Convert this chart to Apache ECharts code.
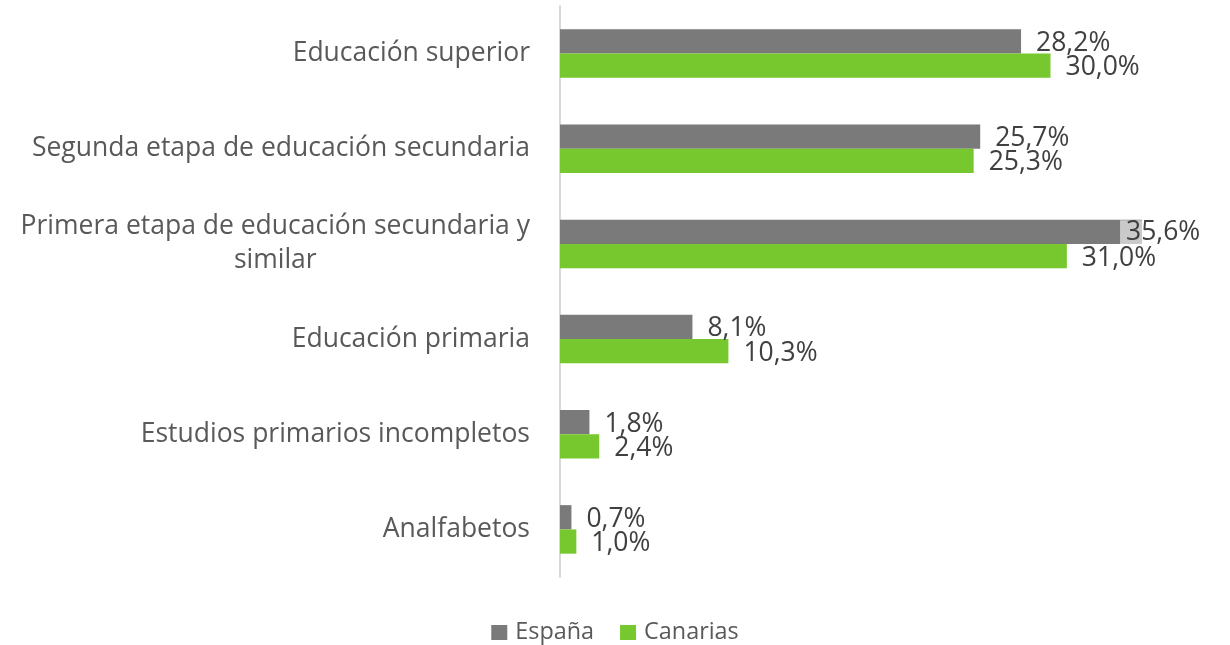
<!DOCTYPE html>
<html>
<head>
    <meta charset="utf-8">
    <title>Nivel de estudios</title>
    <script src="https://cdn.jsdelivr.net/npm/echarts@6/dist/echarts.min.js"></script>
    <style>
        html, body { margin: 0; padding: 0; background: #fff; }
        #main { width: 1230px; height: 645px; }
    </style>
</head>
<body>
    <div id="main"></div>
    <script>
        // datos
        const categorias = [
            'Educación superior',
            'Segunda etapa de educación secundaria',
            'Primera etapa de educación secundaria y\nsimilar',
            'Educación primaria',
            'Estudios primarios incompletos',
            'Analfabetos'
        ];
        const espana = [28.2, 25.7, 35.6, 8.1, 1.8, 0.7];
        const canarias = [30.0, 25.3, 31.0, 10.3, 2.4, 1.0];

        const fuente = '"Open Sans", "Noto Sans", sans-serif';
        const fmt = v => v.toFixed(1).replace('.', ',') + '%';

        const chart = echarts.init(document.getElementById('main'), null, { renderer: 'canvas' });

        const etiqueta = {
            show: true,
            position: 'right',
            distance: 15,
            offset: [0, 2],
            fontFamily: fuente,
            fontSize: 26.5,
            color: '#404040',
            formatter: p => fmt(p.value)
        };

        // el rótulo de 35,6% se monta sobre la barra con fondo blanco translúcido
        const datosEsp = espana.map((v, i) => i === 2
            ? { value: v, label: { offset: [-37, 1], backgroundColor: 'rgba(255,255,255,0.6)', padding: [0, 2, 0, 6], lineHeight: 25 } }
            : v);

        chart.setOption({
            animation: false,
            textStyle: { fontFamily: fuente },
            grid: { left: 560, right: 16, top: 6, bottom: 68, containLabel: false },
            legend: {
                top: 616,
                left: 'center',
                icon: 'rect',
                itemWidth: 16,
                itemHeight: 15,
                itemGap: 26,
                textStyle: { fontFamily: fuente, fontSize: 23.4, color: '#595959', padding: [0, 0, 0, 3] },
                data: ['España', 'Canarias']
            },
            xAxis: {
                type: 'value',
                min: 0,
                max: 40,
                show: false
            },
            yAxis: {
                type: 'category',
                inverse: true,
                data: categorias,
                axisLine: { show: true, lineStyle: { color: '#d9d9d9', width: 2 } },
                axisTick: { show: false },
                axisLabel: {
                    margin: 30,
                    fontFamily: fuente,
                    fontSize: 26.5,
                    color: '#595959',
                    formatter: v => v.indexOf('\n') >= 0
                        ? v.split('\n').map(l => '{c|' + l + '}').join('\n')
                        : v,
                    rich: {
                        c: { align: 'center', fontFamily: fuente, fontSize: 26.5, color: '#595959', lineHeight: 34 }
                    }
                }
            },
            series: [
                {
                    name: 'España',
                    type: 'bar',
                    data: datosEsp,
                    itemStyle: { color: '#7a7a7a' },
                    barGap: '0%',
                    barCategoryGap: '49%',
                    label: etiqueta
                },
                {
                    name: 'Canarias',
                    type: 'bar',
                    data: canarias,
                    itemStyle: { color: '#76c82e' },
                    label: etiqueta
                }
            ]
        });

        window.addEventListener('resize', () => chart.resize());
    </script>
</body>
</html>
